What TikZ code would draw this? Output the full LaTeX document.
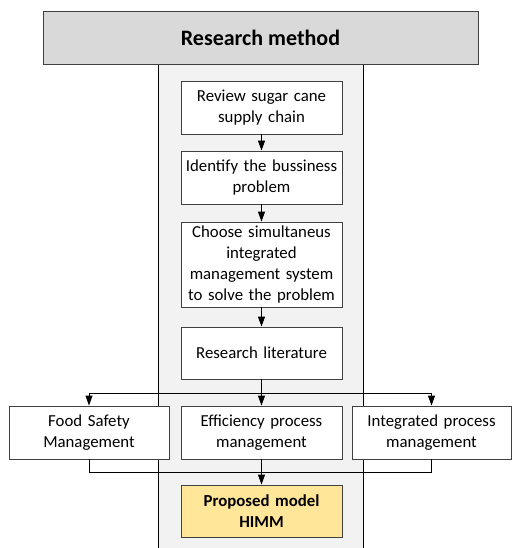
\documentclass[tikz,border=0pt]{standalone}
\usepackage{fontspec}
\setmainfont{Carlito}
\usetikzlibrary{arrows.meta}
\definecolor{headfill}{HTML}{D9D9D9}
\definecolor{colfill}{HTML}{F2F2F2}
\definecolor{edge}{HTML}{404040}
\definecolor{modelfill}{HTML}{FFE699}
\begin{document}
\begin{tikzpicture}[x=1pt,y=-1pt,
  stepbox/.style={draw=edge,line width=0.9pt,fill=white,minimum width=161pt,
    minimum height=53pt,text width=158pt,align=center,inner sep=0pt,
    font=\fontsize{16.8}{20.7}\selectfont},
  link/.style={line width=0.9pt,draw=black},
  arr/.style={link,-{Triangle[width=7pt,length=10pt]}}]
\useasboundingbox (0,0) rectangle (511,548);
% central column
\fill[colfill] (158,64) rectangle (363,548);
\draw[line width=0.9pt] (158,64) -- (158,548) (363,64) -- (363,548);
% header
\node[draw=edge,line width=0.9pt,fill=headfill,minimum width=435pt,minimum height=53pt,
  inner sep=0pt,font=\fontsize{22}{26}\selectfont\bfseries] (head) at (260.5,37.5) {Research method};
% steps
\node[stepbox] (b1) at (261.5,107.5) {Review sugar cane\\supply chain};
\node[stepbox] (b2) at (261.5,177.5) {Identify the bussiness\\problem};
\node[stepbox,minimum height=85pt] (b3) at (261.5,264.5) {Choose simultaneus\\integrated\\management system\\to solve the problem};
\node[stepbox,minimum height=52pt] (b4) at (261.5,353) {Research literature};
\node[stepbox,minimum width=160pt] (fs) at (89,432.5) {Food Safety\\Management};
\node[stepbox] (ep) at (261.5,432.5) {Efficiency process\\management};
\node[stepbox,minimum width=159pt] (ip) at (431.5,432.5) {Integrated process\\management};
\node[stepbox,fill=modelfill,minimum height=52pt,font=\fontsize{16.8}{20.7}\selectfont\bfseries] (pm) at (261.5,511) {Proposed model\\HIMM};
% connectors
\coordinate (split) at (261.5,393);
\coordinate (join) at (261.5,472);
\draw[arr] (b1) -- (b2);
\draw[arr] (b2) -- (b3);
\draw[arr] (b3) -- (b4);
\draw[arr] (b4) -- (ep);
\draw[link] (split -| fs) -- (split -| ip);
\draw[arr] (split -| fs) -- (fs);
\draw[arr] (split -| ip) -- (ip);
\draw[link] (fs.south) -- (join -| fs) -- (join -| ip) -- (ip.south);
\draw[arr] (ep) -- (pm);
\end{tikzpicture}
\end{document}
